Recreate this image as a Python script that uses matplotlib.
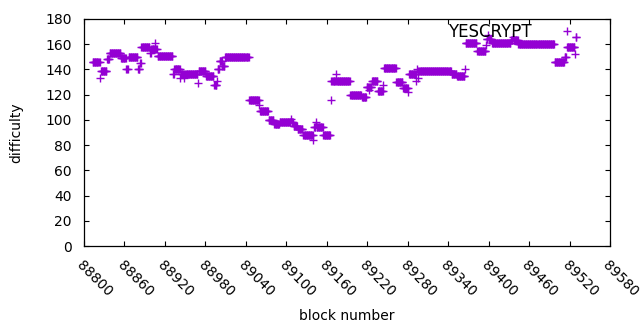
"""
YESCRYPT difficulty per block, gnuplot-style '+' scatter.
Difficulty stays flat over runs of blocks, so the data is kept as run starts
plus the value held from that block until the next start.
"""
import numpy as np
import matplotlib
matplotlib.use("Agg")
import matplotlib.pyplot as plt

# ============================== DATA ==========================================
LABEL = "YESCRYPT"
LAST_BLOCK = 89530

run_start = [88813, 88824, 88825, 88834, 88838, 88855, 88863, 88866, 88880, 88883,
             88885, 88898, 88900, 88906, 88907, 88909, 88932, 88934, 88943, 88944,
             88948, 88949, 88969, 88970, 88981, 88993, 88997, 88998, 89001, 89005,
             89009, 89045, 89060, 89061, 89074, 89082, 89090, 89107, 89108, 89111,
             89117, 89125, 89140, 89141, 89144, 89145, 89155, 89166, 89167, 89173,
             89174, 89195, 89212, 89219, 89222, 89223, 89227, 89236, 89244, 89245,
             89263, 89273, 89281, 89282, 89293, 89294, 89295, 89296, 89345, 89353,
             89365, 89366, 89383, 89396, 89397, 89399, 89400, 89405, 89433, 89436,
             89437, 89444, 89498, 89513, 89516, 89528, 89529]
run_value = [146, 133, 139, 148, 153, 149, 140, 150, 140, 145,
             158, 153, 156, 161, 156, 151, 136, 140, 133, 136,
             133, 136, 129, 139, 135, 128, 131, 140, 147, 143,
             150, 116, 112, 107, 100, 97, 98, 101, 98, 95,
             93, 88, 84, 94, 98, 94, 88, 116, 131, 136,
             131, 120, 118, 126, 124, 126, 131, 123, 128, 141,
             130, 125, 122, 136, 131, 140, 133, 139, 136, 135,
             140, 161, 155, 159, 164, 167, 164, 161, 163, 166,
             163, 160, 146, 150, 158, 152, 166]

x_ticks = list(range(88800, 89581, 60))
y_ticks = list(range(0, 181, 20))
# ==============================================================================

COLOR = "#9400D3"

def expand_runs():
    lengths = np.diff(run_start + [LAST_BLOCK + 1])
    blocks = np.arange(run_start[0], LAST_BLOCK + 1)
    diff = np.repeat(run_value, lengths)
    return blocks, diff


def main():
    blocks, diff = expand_runs()
    plt.rcParams["font.family"] = ["DejaVu Sans"]
    fig = plt.figure(figsize=(6.4, 3.3), dpi=100)
    ax = fig.add_axes([84 / 640, 1 - 246 / 330, 526 / 640, 227 / 330])

    ax.plot(blocks, diff, linestyle="none", marker="+", color=COLOR,
            markersize=5.5, markeredgewidth=1.0, label=LABEL)

    ax.set_xlim(x_ticks[0], x_ticks[-1])
    ax.set_ylim(y_ticks[0], y_ticks[-1])
    ax.set_xticks(x_ticks)
    ax.set_yticks(y_ticks)
    ax.set_xticklabels([str(t) for t in x_ticks], rotation=-45, ha="left", va="top",
                       rotation_mode="anchor")
    ax.tick_params(direction="in", length=3.5, width=0.8, top=True, right=True,
                   labelsize=10, colors="black")
    ax.tick_params(axis="y", pad=9)
    ax.tick_params(axis="x", pad=9)
    for s in ax.spines.values():
        s.set_linewidth(0.9)

    ax.set_xlabel("block number", fontsize=10)
    ax.set_ylabel("difficulty", fontsize=10)
    ax.xaxis.set_label_coords(0.5, -(309 - 246) / 227)
    # ylabel anchors on its right (bottom of the rotated text)
    ax.yaxis.set_label_coords((23 - 84) / 526, 0.5)

    ax.legend(loc="upper right", bbox_to_anchor=(590 / 640, 1 - 16 / 330),
              bbox_transform=fig.transFigure, frameon=False, markerfirst=False,
              fontsize=12, handlelength=2.0, handletextpad=1.1, borderaxespad=0,
              borderpad=0.4)

    fig.savefig("out.png", dpi=100)


if __name__ == "__main__":
    main()
